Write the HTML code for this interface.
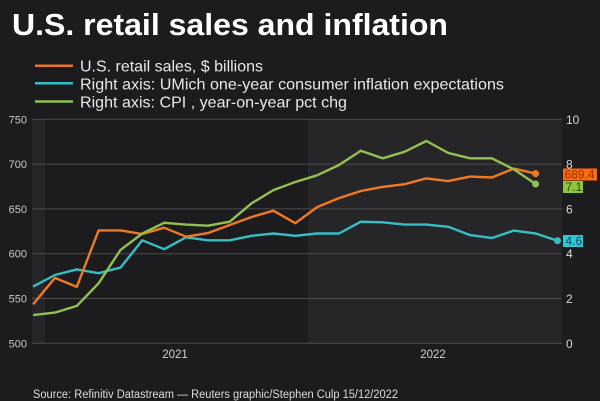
<!DOCTYPE html>
<html><head><meta charset="utf-8"><style>
html,body{margin:0;padding:0;background:#1c1b1d;}
svg{display:block;}
text{font-family:"Liberation Sans",Arial,sans-serif;}
</style></head><body>
<svg width="600" height="401" viewBox="0 0 600 401" xmlns="http://www.w3.org/2000/svg">
<rect x="0" y="0" width="600" height="401" fill="#1c1b1d"/>
<!-- shading -->
<rect x="32" y="119" width="13" height="224.5" fill="#262527"/>
<rect x="308" y="119" width="254" height="224.5" fill="#262527"/>
<!-- grid -->
<g stroke="#4c4b4e" stroke-width="1">
<line x1="32" y1="119.3" x2="562" y2="119.3"/>
<line x1="32" y1="164.1" x2="562" y2="164.1"/>
<line x1="32" y1="208.9" x2="562" y2="208.9"/>
<line x1="32" y1="253.7" x2="562" y2="253.7"/>
<line x1="32" y1="298.5" x2="562" y2="298.5"/>
<line x1="32" y1="343.3" x2="562" y2="343.3"/>
</g>
<!-- title -->
<text x="12" y="35" font-size="31" font-weight="bold" fill="#ffffff" textLength="436" lengthAdjust="spacingAndGlyphs">U.S. retail sales and inflation</text>
<!-- legend -->
<line x1="35" y1="65.7" x2="73" y2="65.7" stroke="#e8762a" stroke-width="2.5"/>
<line x1="35" y1="83.3" x2="73" y2="83.3" stroke="#35bfc5" stroke-width="2.5"/>
<line x1="35" y1="101.5" x2="73" y2="101.5" stroke="#8fbf55" stroke-width="2.5"/>
<text x="80" y="71.5" font-size="16" fill="#e8e8e8" textLength="183" lengthAdjust="spacingAndGlyphs">U.S. retail sales, $ billions</text>
<text x="80" y="89.3" font-size="16" fill="#e8e8e8" textLength="424" lengthAdjust="spacingAndGlyphs">Right axis: UMich one-year consumer inflation expectations</text>
<text x="80" y="107.3" font-size="16" fill="#e8e8e8" textLength="267" lengthAdjust="spacingAndGlyphs">Right axis: CPI , year-on-year pct chg</text>
<!-- left ticks -->
<g font-size="11" fill="#c8c8c8" text-anchor="end">
<text x="27" y="123.3">750</text>
<text x="27" y="168.1">700</text>
<text x="27" y="212.9">650</text>
<text x="27" y="257.7">600</text>
<text x="27" y="302.5">550</text>
<text x="27" y="347.3">500</text>
</g>
<!-- right ticks -->
<g font-size="12" fill="#d8d8d8">
<text x="566" y="123.8">10</text>
<text x="566" y="168.6">8</text>
<text x="566" y="213.4">6</text>
<text x="566" y="258.2">4</text>
<text x="566" y="303">2</text>
<text x="566" y="347.8">0</text>
</g>
<!-- year labels -->
<g font-size="11.5" fill="#d0d0d0" text-anchor="middle">
<text x="175" y="358">2021</text>
<text x="433" y="358">2022</text>
</g>
<!-- series -->
<g fill="none" stroke-width="2.4" stroke-linejoin="round">
<polyline stroke="#35bfc5" points="33.1,286.6 54.9,275.0 76.8,269.4 98.6,273.2 120.5,267.6 142.3,240.3 164.2,249.2 186.0,237.3 207.9,240.3 229.7,240.3 251.6,235.8 273.4,233.5 295.3,235.8 317.1,233.5 339.0,233.5 360.8,221.7 382.7,222.3 404.5,224.6 426.4,224.6 448.2,226.8 470.1,235.1 491.9,238.0 513.8,230.6 535.6,233.5 557.5,240.7"/>
<polyline stroke="#ef7a22" points="33.1,304.3 54.9,277.9 76.8,286.9 98.6,230.4 120.5,230.4 142.3,234.0 164.2,227.7 186.0,236.7 207.9,233.1 229.7,225.0 251.6,217.0 273.4,210.7 295.3,223.2 317.1,207.1 339.0,198.1 360.8,191.0 382.7,186.9 404.5,184.2 426.4,178.4 448.2,181.1 470.1,176.6 491.9,177.5 513.8,168.6 535.6,173.6"/>
<polyline stroke="#92c152" points="33.1,315.1 54.9,312.6 76.8,305.9 98.6,283.3 120.5,249.9 142.3,233.5 164.2,222.8 186.0,224.6 207.9,225.7 229.7,221.7 251.6,203.3 273.4,190.1 295.3,182.0 317.1,175.3 339.0,165.0 360.8,150.7 382.7,158.3 404.5,151.8 426.4,141.0 448.2,152.9 470.1,158.3 491.9,158.3 513.8,169.3 535.6,184.0"/>
</g>
<circle cx="535.6" cy="173.6" r="3.5" fill="#ef7a22"/>
<circle cx="535.6" cy="184.0" r="3.5" fill="#92c152"/>
<circle cx="557.5" cy="240.7" r="3.5" fill="#35bfc5"/>
<!-- value labels -->
<rect x="563" y="168.5" width="34" height="12" fill="#ff6a0a"/>
<text x="564.5" y="178.6" font-size="12" fill="#9a3100">689.4</text>
<rect x="563" y="181" width="20" height="12" fill="#8dc63f"/>
<text x="565.5" y="191.1" font-size="12" fill="#2e4a12">7.1</text>
<rect x="563" y="235" width="20" height="12" fill="#2fc6d4"/>
<text x="565.5" y="245.1" font-size="12" fill="#10505c">4.6</text>
<!-- source -->
<text x="33" y="398" font-size="11.5" fill="#dcdcdc" textLength="365" lengthAdjust="spacingAndGlyphs">Source: Refinitiv Datastream — Reuters graphic/Stephen Culp 15/12/2022</text>
</svg>
</body></html>
